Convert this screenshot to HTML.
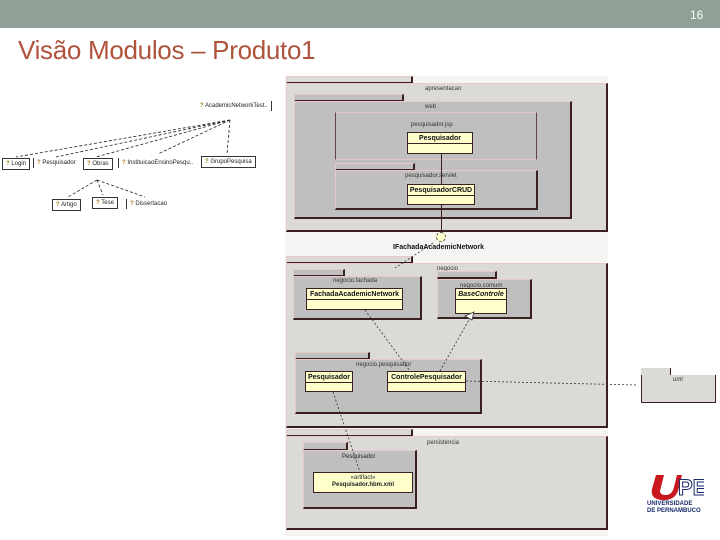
<!DOCTYPE html>
<html><head><meta charset="utf-8"><style>
*{margin:0;padding:0;box-sizing:border-box}
body{width:720px;height:540px;background:#fff;position:relative;overflow:hidden;font-family:"Liberation Sans",sans-serif}
.a{position:absolute}
.pk{position:absolute;background:#dcdad6;border-right:2px solid #3a2020;border-bottom:2px solid #3a2020;border-top:1px solid #e8c8c8;border-left:1px solid #e8c8c8}
.pg{position:absolute;background:#c0bfbf;border-right:2px solid #3a2020;border-bottom:2px solid #3a2020;border-top:1px solid #e8c8c8;border-left:1px solid #e8c8c8}
.cl{position:absolute;background:#ffffcc;border:1px solid #3a2020;font-size:7px;font-weight:bold;text-align:center;color:#111}
.cl b{display:block;border-bottom:1px solid #3a2020;padding:2px 0;height:11px}
.lb{position:absolute;font-size:6px;color:#333;white-space:nowrap}
.sm{position:absolute;font-size:6px;color:#222;white-space:nowrap;padding:2px 3px;background:#fff}
.sm i{font-style:normal;color:#a08020;font-weight:bold}
</style></head><body>
<div class="a" style="left:0;top:0;width:720px;height:28px;background:#8fa096"></div>
<div class="a" style="left:690px;top:8px;color:#fff;font-size:12px">16</div>
<div class="a" style="left:18px;top:35px;color:#b0533c;font-size:26px;white-space:nowrap;letter-spacing:-0.3px">Visão Modulos – Produto1</div>

<!-- left small diagram -->
<div class="sm" style="left:197px;top:101px;border-right:1px solid #333"><i>?</i> AcademicNetworkTest..</div>
<div class="sm" style="left:2px;top:158px;border:1px solid #333"><i>?</i> Login</div>
<div class="sm" style="left:33px;top:158px;border-left:1px solid #333"><i>?</i> Pesquisador</div>
<div class="sm" style="left:83px;top:158px;border:1px solid #333"><i>?</i> Obras</div>
<div class="sm" style="left:118px;top:158px;border-left:1px solid #333"><i>?</i> InstituicaoEnsinoPesqu..</div>
<div class="sm" style="left:201px;top:156px;border:1px solid #333"><i>?</i> GrupoPesquisa</div>
<div class="sm" style="left:52px;top:199px;border:1px solid #333"><i>?</i> Artigo</div>
<div class="sm" style="left:92px;top:197px;border:1px solid #333"><i>?</i> Tese</div>
<div class="sm" style="left:126px;top:199px;border-left:1px solid #333"><i>?</i> Dissertacao</div>
<svg class="a" style="left:0;top:0" width="720" height="540">
<g stroke="#222" stroke-width="0.8" stroke-dasharray="3,2" fill="none">
<line x1="230" y1="120" x2="16" y2="157"/><line x1="230" y1="120" x2="56" y2="157"/>
<line x1="230" y1="120" x2="96" y2="157"/><line x1="230" y1="120" x2="158" y2="154"/>
<line x1="230" y1="120" x2="227" y2="154"/>
<line x1="97" y1="180" x2="68" y2="197"/><line x1="97" y1="180" x2="103" y2="195"/><line x1="97" y1="180" x2="145" y2="197"/>
</g>
</svg>

<div class="a" style="left:285px;top:76px;width:323px;height:460px;background:#f6f4f2"></div>

<div class="pk" style="left:286px;top:76px;width:127px;height:8px"></div>
<div class="pk" style="left:286px;top:83px;width:322px;height:149px"></div>
<div class="lb" style="left:425px;top:86px">apresentacao</div>
<div class="pg" style="left:294px;top:94px;width:110px;height:8px"></div>
<div class="pg" style="left:294px;top:101px;width:278px;height:118px"></div>
<div class="lb" style="left:425px;top:104px">web</div>
<div class="a" style="left:335px;top:112px;width:202px;height:48px;border-left:1px solid #6a4040;border-right:1px solid #6a4040;border-top:1px solid #e0c8c8;border-bottom:1px solid #e0c8c8"></div>
<div class="lb" style="left:411px;top:122px">pesquisador.jsp</div>
<div class="cl" style="left:407px;top:132px;width:66px;height:22px"><b>Pesquisador</b></div>
<div class="pg" style="left:335px;top:163px;width:80px;height:8px"></div>
<div class="pg" style="left:335px;top:170px;width:203px;height:40px"></div>
<div class="lb" style="left:405px;top:173px">pesquisador.servlet</div>
<div class="cl" style="left:407px;top:184px;width:68px;height:21px"><b>PesquisadorCRUD</b></div>
<div class="a" style="left:441px;top:154px;width:1px;height:30px;background:#3a2020"></div>
<div class="a" style="left:441px;top:204px;width:1px;height:28px;background:#3a2020"></div>
<div class="a" style="left:436px;top:232px;width:10px;height:10px;border-radius:50%;background:#ffffcc;border:1px dashed #555"></div>
<div class="a" style="left:393px;top:244px;font-size:7px;font-weight:bold;color:#111">IFachadaAcademicNetwork</div>

<div class="pk" style="left:286px;top:256px;width:127px;height:8px"></div>
<div class="pk" style="left:286px;top:263px;width:322px;height:165px"></div>
<div class="lb" style="left:437px;top:266px">negocio</div>
<div class="pg" style="left:293px;top:269px;width:52px;height:8px"></div>
<div class="pg" style="left:293px;top:276px;width:129px;height:44px"></div>
<div class="lb" style="left:333px;top:278px">negocio.fachada</div>
<div class="cl" style="left:306px;top:288px;width:97px;height:22px"><b>FachadaAcademicNetwork</b></div>
<div class="pg" style="left:437px;top:271px;width:60px;height:8px"></div>
<div class="pg" style="left:437px;top:279px;width:95px;height:40px"></div>
<div class="lb" style="left:460px;top:283px">negocio.comum</div>
<div class="cl" style="left:455px;top:288px;width:52px;height:26px"><b style="font-style:italic">BaseControle</b></div>
<div class="pg" style="left:295px;top:352px;width:75px;height:8px"></div>
<div class="pg" style="left:295px;top:359px;width:187px;height:55px"></div>
<div class="lb" style="left:356px;top:362px">negocio.pesquisador</div>
<div class="cl" style="left:305px;top:371px;width:48px;height:21px"><b>Pesquisador</b></div>
<div class="cl" style="left:387px;top:371px;width:79px;height:21px"><b>ControlePesquisador</b></div>

<div class="pk" style="left:286px;top:429px;width:127px;height:8px"></div>
<div class="pk" style="left:286px;top:436px;width:322px;height:94px"></div>
<div class="lb" style="left:427px;top:440px">persistencia</div>
<div class="pg" style="left:303px;top:442px;width:45px;height:9px"></div>
<div class="pg" style="left:303px;top:450px;width:114px;height:59px"></div>
<div class="lb" style="left:342px;top:454px;color:#222">Pesquisador</div>
<div class="a" style="left:313px;top:472px;width:100px;height:21px;background:#ffffcc;border:1px solid #3a2020;font-size:6px;text-align:center;line-height:7px;padding-top:2px;color:#222">«artifact»<br><b>Pesquisador.hbm.xml</b></div>

<div class="a" style="left:641px;top:368px;width:30px;height:8px;background:#dcdad6;border-right:1px solid #3a2020"></div>
<div class="a" style="left:641px;top:375px;width:75px;height:28px;background:#dcdad6;border-right:1px solid #3a2020;border-bottom:1px solid #3a2020;border-left:1px solid #3a2020"></div>
<div class="lb" style="left:673px;top:377px">uml</div>

<svg class="a" style="left:0;top:0" width="720" height="540">
<g stroke="#333" stroke-width="0.8" stroke-dasharray="2,2" fill="none">
<line x1="433" y1="243" x2="395" y2="268"/>
<line x1="365" y1="310" x2="410" y2="371"/>
<line x1="440" y1="371" x2="470" y2="318"/>
<line x1="466" y1="381" x2="636" y2="385"/>
<line x1="333" y1="392" x2="360" y2="472"/>
</g>
<polygon points="465,316 474,312 472,320" fill="#fff" stroke="#333" stroke-width="0.8"/>
</svg>

<div class="a" style="left:648px;top:473px;width:56px;height:28px">
<svg width="56" height="28"><path d="M8 2 L16 2 L12 18 Q12 22 18 22 Q24 22 26 14 L29 2 L34 2 L30 18 Q26 28 14 27 Q2 26 4 16Z" fill="#c8181e"/>
<text x="30" y="22" font-family="Liberation Sans" font-weight="bold" font-size="22" fill="#fff" stroke="#1a2a6a" stroke-width="1">PE</text></svg>
</div>
<div class="a" style="left:647px;top:501px;font-size:6px;font-weight:bold;color:#1a2a6a;line-height:7px">UNIVERSIDADE<br>DE PERNAMBUCO</div>
</body></html>
